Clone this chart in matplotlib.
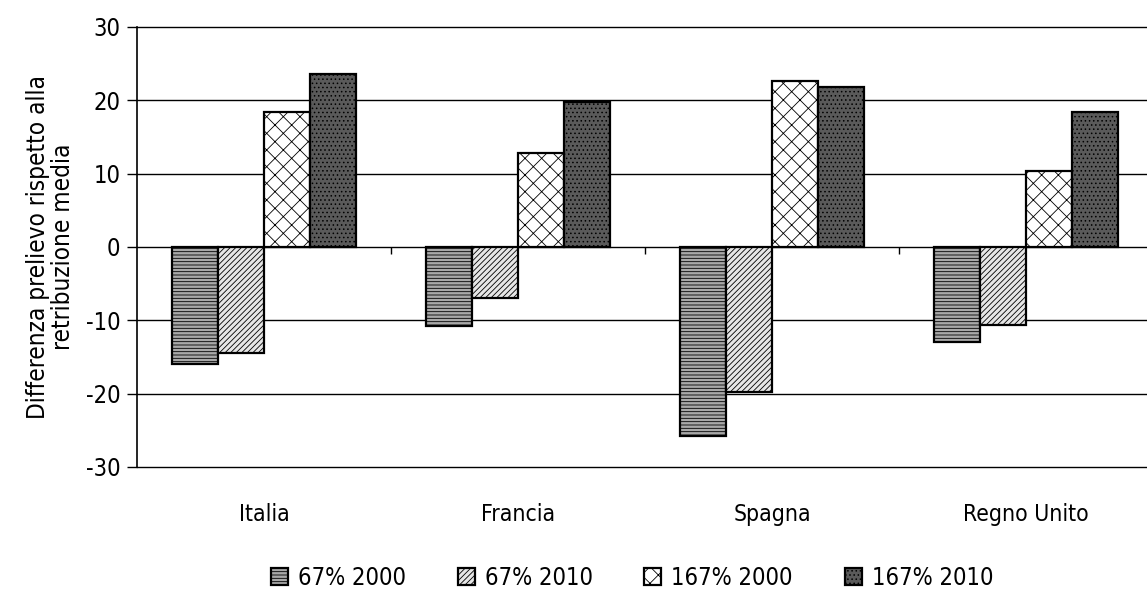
import matplotlib.pyplot as plt
import matplotlib.transforms as mtransforms
import numpy as np

# Dati: differenza di prelievo rispetto alla retribuzione media
paesi = ['Italia', 'Francia', 'Spagna', 'Regno Unito']
serie = ['67% 2000', '67% 2010', '167% 2000', '167% 2010']
v_67_2000 = [-16.0, -10.8, -25.8, -13.0]
v_67_2010 = [-14.5, -6.9, -19.8, -10.6]
v_167_2000 = [18.4, 12.8, 22.7, 10.3]
v_167_2010 = [23.6, 19.8, 21.8, 18.4]
valori = [v_67_2000, v_67_2010, v_167_2000, v_167_2010]

# Stile dei riempimenti (grigi con tratteggio, come nei vecchi grafici Excel)
colori = ['#a8a8a8', '#e6e6e6', '#ffffff', '#5a5a5a']
tratteggi = ['-----', '//////', 'xx', '....']

plt.rcParams['font.family'] = ['DejaVu Sans']
plt.rcParams['font.stretch'] = 'condensed'
plt.rcParams['axes.unicode_minus'] = False
plt.rcParams['hatch.linewidth'] = 0.6

fig = plt.figure(figsize=(11.47, 5.96), dpi=100)
ax = fig.add_axes([137 / 1147, 1 - 467 / 596, 1 - 137 / 1147, (467 - 27) / 596])

x = np.arange(len(paesi))
w = 0.181
for i, (vals, c, h) in enumerate(zip(valori, colori, tratteggi)):
    ax.bar(x + (i - 1.5) * w, vals, w, color=c, hatch=h, edgecolor='black',
           linewidth=1.6, label=serie[i], zorder=3)

ax.set_ylim(-30, 30)
ax.set_xlim(-0.5, 3.5 - 6 / 254)
ax.set_yticks([-30, -20, -10, 0, 10, 20, 30])
ax.tick_params(axis='y', labelsize=17, length=7, width=1, direction='out', pad=5)
for y in [-30, -20, -10, 10, 20, 30]:
    ax.axhline(y, color='black', linewidth=1, zorder=1, clip_on=False)

# asse orizzontale sullo zero con le tacche tra i gruppi
ax.spines['bottom'].set_position(('data', 0))
ax.spines['bottom'].set_linewidth(1)
ax.set_xticks([0.5, 1.5, 2.5])
ax.set_xticklabels([])
ax.tick_params(axis='x', length=5, width=1, direction='out')
for s in ['top', 'right']:
    ax.spines[s].set_visible(False)
ax.spines['left'].set_linewidth(1.2)

trans = mtransforms.blended_transform_factory(ax.transData, ax.transAxes)
for xi, p in zip(x, paesi):
    ax.text(xi, -0.109, p, transform=trans, ha='center', va='center', fontsize=16.5)

ax.set_ylabel('Differenza prelievo rispetto alla\nretribuzione media', fontsize=17.5,
              linespacing=1.05, labelpad=8)

fig.legend(loc='center', bbox_to_anchor=(0.551, 0.030), ncol=4, frameon=False,
           fontsize=17, handlelength=0.72, handleheight=0.72, handletextpad=0.42,
           columnspacing=2.2, borderpad=0, borderaxespad=0)

fig.savefig('out.png', dpi=100)
